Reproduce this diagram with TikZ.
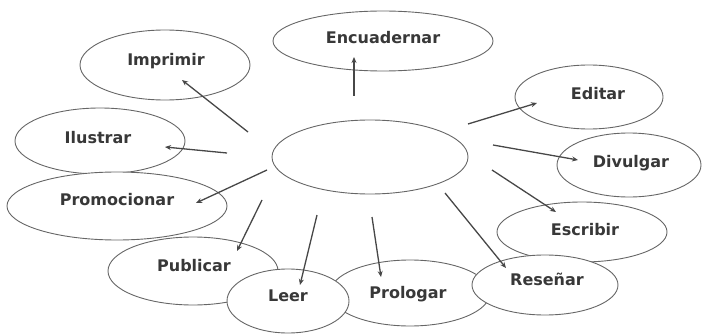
\documentclass[tikz,border=0pt]{standalone}
\usepackage{fontspec}
\setmainfont{DejaVu Sans}
\usetikzlibrary{arrows.meta}
\begin{document}
\begin{tikzpicture}[x=1pt,y=-1pt,
  oval/.style={fill=white, draw=black!60, line width=0.9pt},
  lbl/.style={font=\fontsize{16}{16}\selectfont\bfseries, text=black!78, inner sep=0pt},
  link/.style={draw=black!72, line width=1.3pt, -{Stealth[length=6pt,width=5pt]}}]
\useasboundingbox (0,0) rectangle (703,334);
% ellipses, back to front
\path[oval] (383,41) ellipse [x radius=110, y radius=30];
\node[lbl] (enc) at (383,38) {Encuadernar};
\path[oval] (165,65) ellipse [x radius=85, y radius=35];
\node[lbl] (imp) at (166,61) {Imprimir};
\path[oval] (100,141) ellipse [x radius=85, y radius=33];
\node[lbl] (ilu) at (98,138) {Ilustrar};
\path[oval] (117,206) ellipse [x radius=110, y radius=34];
\node[lbl] (pro) at (117,200) {Promocionar};
\path[oval] (193,271) ellipse [x radius=85, y radius=34];
\node[lbl] (pub) at (194,266) {Publicar};
\path[oval] (410,293) ellipse [x radius=80, y radius=33];
\node[lbl] (prol) at (408,294) {Prologar};
\path[oval] (288,301) ellipse [x radius=61, y radius=32];
\node[lbl] (leer) at (288,296) {Leer};
\path[oval] (589,97) ellipse [x radius=74, y radius=32];
\node[lbl] (edi) at (598,94) {Editar};
\path[oval] (629,165) ellipse [x radius=72, y radius=32];
\node[lbl] (div) at (631,163) {Divulgar};
\path[oval] (582,232) ellipse [x radius=85, y radius=30];
\node[lbl] (esc) at (585,230) {Escribir};
\path[oval] (545,285) ellipse [x radius=73, y radius=30];
\node[lbl] (res) at (547,279) {Reseñar};
\path[oval] (370,157) ellipse [x radius=98, y radius=37];
\coordinate (c) at (370,157);
% arrow end points
\coordinate (s1) at (248,132); \coordinate (e1) at (182,80);
\coordinate (s2) at (227,153); \coordinate (e2) at (165,147);
\coordinate (s3) at (354,96);  \coordinate (e3) at (354,57);
\coordinate (s4) at (468,124); \coordinate (e4) at (537,103);
\coordinate (s5) at (493,145); \coordinate (e5) at (578,160);
\coordinate (s6) at (492,170); \coordinate (e6) at (556,212);
\coordinate (s7) at (445,193); \coordinate (e7) at (506,268);
\coordinate (s8) at (372,217); \coordinate (e8) at (381,277);
\coordinate (s9) at (317,215); \coordinate (e9) at (300,285);
\coordinate (s10) at (262,200); \coordinate (e10) at (237,251);
\coordinate (s11) at (267,170); \coordinate (e11) at (196,203);
\foreach \i in {1,...,11} \draw[link] (s\i) -- (e\i);
\end{tikzpicture}
\end{document}
